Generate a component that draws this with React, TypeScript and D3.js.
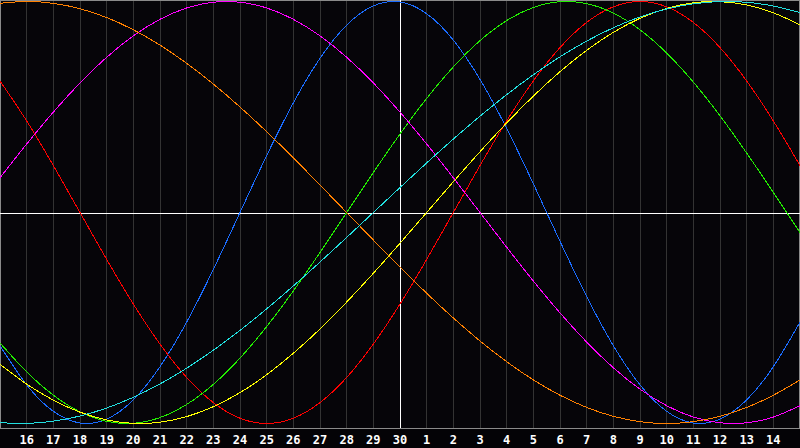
import React from "react";
import * as d3 from "d3";

// Day labels for grid positions 0..30
const dayLabels: number[] = [15, 16, 17, 18, 19, 20, 21, 22, 23, 24, 25, 26, 27, 28, 29, 30, 1, 2, 3, 4, 5, 6, 7, 8, 9, 10, 11, 12, 13, 14, 15];

// Daily values (-1..1), one per grid position 0..30
const physical: number[] = [-0.6311, -0.817, -0.9423, -0.9977, -0.9791, -0.8879, -0.7308, -0.5196, -0.2698, 0, 0.2698, 0.5196, 0.7308, 0.8879, 0.9791, 0.9977, 0.9423, 0.817, 0.6311, 0.3984, 0.1362, -0.1362, -0.3984, -0.6311, -0.817, -0.9423, -0.9977, -0.9791, -0.8879, -0.7308, -0.5196];
const emotional: number[] = [0.6235, 0.4339, 0.2225, 0, -0.2225, -0.4339, -0.6235, -0.7818, -0.901, -0.9749, -1, -0.9749, -0.901, -0.7818, -0.6235, -0.4339, -0.2225, 0, 0.2225, 0.4339, 0.6235, 0.7818, 0.901, 0.9749, 1, 0.9749, 0.901, 0.7818, 0.6235, 0.4339, 0.2225];
const intellectual: number[] = [-0.6182, -0.7557, -0.866, -0.945, -0.9898, -0.9989, -0.9718, -0.9096, -0.8146, -0.6901, -0.5406, -0.3717, -0.1893, 0, 0.1893, 0.3717, 0.5406, 0.6901, 0.8146, 0.9096, 0.9718, 0.9989, 0.9898, 0.945, 0.866, 0.7557, 0.6182, 0.4582, 0.2817, 0.0951, -0.0951];
const intuitive: number[] = [0.1646, 0.3247, 0.4759, 0.6142, 0.7357, 0.8372, 0.9158, 0.9694, 0.9966, 0.9966, 0.9694, 0.9158, 0.8372, 0.7357, 0.6142, 0.4759, 0.3247, 0.1646, 0, -0.1646, -0.3247, -0.4759, -0.6142, -0.7357, -0.8372, -0.9158, -0.9694, -0.9966, -0.9966, -0.9694, -0.9158];
const aesthetic: number[] = [-0.7199, -0.8133, -0.8894, -0.9464, -0.9834, -0.9993, -0.994, -0.9675, -0.9203, -0.8536, -0.7687, -0.6673, -0.5518, -0.4244, -0.2881, -0.1456, 0, 0.1456, 0.2881, 0.4244, 0.5518, 0.6673, 0.7687, 0.8536, 0.9203, 0.9675, 0.994, 0.9993, 0.9834, 0.9464, 0.8894];
const awareness: number[] = [0.9914, 1, 0.9914, 0.9659, 0.9239, 0.866, 0.7934, 0.7071, 0.6088, 0.5, 0.3827, 0.2588, 0.1305, 0, -0.1305, -0.2588, -0.3827, -0.5, -0.6088, -0.7071, -0.7934, -0.866, -0.9239, -0.9659, -0.9914, -1, -0.9914, -0.9659, -0.9239, -0.866, -0.7934];
const spiritual: number[] = [-0.9961, -0.9996, -0.989, -0.9646, -0.9267, -0.8757, -0.8125, -0.7378, -0.6528, -0.5586, -0.4566, -0.3482, -0.2349, -0.1183, 0, 0.1183, 0.2349, 0.3482, 0.4566, 0.5586, 0.6528, 0.7378, 0.8125, 0.8757, 0.9267, 0.9646, 0.989, 0.9996, 0.9961, 0.9786, 0.9473];

const seriesNames: string[] = ["physical", "emotional", "intellectual", "intuitive", "aesthetic", "awareness", "spiritual"];
const seriesColors: string[] = ["#1a6cff", "#ff0000", "#22ee00", "#ff00ff", "#ffff00", "#ff8000", "#22e0e0"];
const seriesData: number[][] = [physical, emotional, intellectual, intuitive, aesthetic, awareness, spiritual];

const W = 800;
const H = 448;

export default function App() {
  const x = d3.scaleLinear().domain([0, 30]).range([0, 800]);
  const y = d3.scaleLinear().domain([-1, 1]).range([423.5, 1.5]);
  const line = d3
    .line<number>()
    .x((_, i) => x(i))
    .y((v) => y(v))
    .curve(d3.curveNatural);

  const gridIdx = d3.range(1, 30);
  const centerIdx = 15;
  const zeroY = Math.round(y(0)) + 0.5;

  return (
    <svg
      width={W}
      height={H}
      style={{ position: "absolute", left: 0, top: 0, display: "block" }}
    >
      <rect x={0} y={0} width={W} height={H} fill="#040306" />
      <rect x={0} y={0} width={W} height={428} fill="#060509" />
      {gridIdx
        .filter((i) => i !== centerIdx)
        .map((i) => (
          <line
            key={"g" + i}
            x1={Math.floor(x(i)) + 0.5}
            x2={Math.floor(x(i)) + 0.5}
            y1={0}
            y2={428}
            stroke="#333333"
            strokeWidth={1}
            shapeRendering="crispEdges"
          />
        ))}
      {/* border */}
      <line x1={0.5} x2={0.5} y1={0} y2={428} stroke="#8a8a8a" shapeRendering="crispEdges" />
      <line x1={799.5} x2={799.5} y1={0} y2={428} stroke="#8a8a8a" shapeRendering="crispEdges" />
      <line x1={0} x2={800} y1={0.5} y2={0.5} stroke="#8a8a8a" shapeRendering="crispEdges" />
      <line x1={0} x2={800} y1={428.5} y2={428.5} stroke="#8a8a8a" shapeRendering="crispEdges" />
      {/* center cross */}
      <line x1={0} x2={800} y1={zeroY} y2={zeroY} stroke="#ffffff" shapeRendering="crispEdges" />
      <line
        x1={Math.floor(x(centerIdx)) + 0.5}
        x2={Math.floor(x(centerIdx)) + 0.5}
        y1={0}
        y2={428}
        stroke="#ffffff"
        shapeRendering="crispEdges"
      />
      {seriesData.map((d, k) => (
        <path
          key={seriesNames[k]}
          d={line(d) || ""}
          fill="none"
          stroke={seriesColors[k]}
          strokeWidth={1}
          shapeRendering="crispEdges"
        />
      ))}
      {gridIdx.map((i) => (
        <text
          key={"t" + i}
          x={x(i)}
          y={444}
          textAnchor="middle"
          fill="#ffffff"
          fontFamily="'DejaVu Sans Mono', monospace"
          fontWeight="bold"
          fontSize={12}
        >
          {dayLabels[i]}
        </text>
      ))}
    </svg>
  );
}
